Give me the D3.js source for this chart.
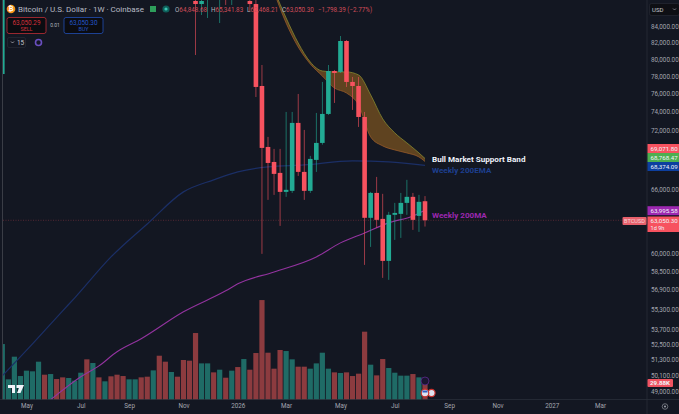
<!DOCTYPE html>
<html>
<head>
<meta charset="utf-8">
<script src="https://cdn.jsdelivr.net/npm/d3@7"></script>
<style>
  html, body { margin: 0; padding: 0; background: #131722; overflow: hidden; }
  text { font-family: Roboto, sans-serif; }
  .axis text { fill: #a3a6af; font-size: 6.3px; }
  .axis path, .axis line { display: none; }
</style>
</head>
<body>
<div id="chart"></div>
<script>
// weekly bars, 2025-03-31 to 2026-08-03
const firstWeek = new Date(Date.UTC(2025, 2, 31));
const lastWeek = new Date(Date.UTC(2026, 7, 3));

// volume in K, one per bar
const volumes = [92.9, 34.3, 71.9, 39.8, 48.7, 47.6, 63.6, 42, 43.1, 34.8, 37.6, 36.5, 32.1, 45.3, 67.5, 61.4, 37.6, 31, 39.3, 42,
    39.8, 34.3, 34.3, 37.6, 38.7, 49.2, 73.5, 63.6, 46.5, 38.7, 66.4, 65.3, 111.2, 60.8, 60.8, 45.9, 50.3, 37,
    48.7, 54.7, 68, 50.3, 78, 165.9, 78.5, 52, 83, 81.3, 67.5, 55.3, 55.3, 52, 60.8, 78.5, 52, 45.9, 44.8, 45.9,
    39.8, 43.7, 113.4, 58.6, 40.9, 68, 53.1, 45.3, 40.4, 40.4, 43.1, 37.6, 29.88];
// u = up week, d = down week
const volumeDirs = "uuuuuuududduuudududdduudduddudddduudud" + "ududddddduudduuuududdddudduuuudud";

// candles on screen (bar number, then prices); the rest sit above the visible range
const candleBars = [0, 32, 33, 34, 36, 37, 38, 41, 42, 43, 44, 45, 46, 47, 48, 49, 50, 51, 52, 53, 54, 55, 56, 57, 58, 59, 60, 61, 62, 63, 64, 65, 66, 67, 68, 69, 70];
const opens = [78250, 87160, 86770, 87500, 88000, 89000, 88000, 87160, 86770, 76880, 70260, 68720, 67620, 65750, 65850, 72800, 67720, 65850, 68930, 70680, 73770, 78600, 78490, 82160, 77340, 76880, 73440, 63280, 65650, 63180, 59380, 63560, 63650, 64690, 65270, 63460, 64848.68];
const highs = [90000, 90000, 90000, 90000, 90000, 90000, 90000, 88000, 87500, 79300, 71310, 70060, 70060, 73990, 73990, 75980, 72050, 69340, 73880, 77340, 79300, 78720, 82770, 82270, 77910, 77910, 73990, 65750, 67220, 65560, 63840, 64690, 65650, 66930, 65650, 65460, 65341.83];
const lows = [74430, 80480, 85380, 85000, 84370, 86650, 86650, 85800, 75640, 60000, 64980, 65460, 62530, 65270, 65650, 67320, 64980, 65650, 67720, 70500, 73660, 74980, 78370, 76770, 74210, 72370, 59030, 60620, 62350, 57910, 57740, 61250, 61430, 63560, 62160, 61980, 62468.21];
const closes = [88000, 86770, 87160, 89000, 89500, 88500, 89000, 86770, 76770, 70160, 68620, 67520, 65750, 65950, 72800, 67720, 65850, 69030, 70680, 73770, 78600, 78370, 82160, 77340, 76880, 73440, 63280, 65650, 63090, 59380, 63560, 63740, 64690, 65270, 63090, 64790, 63050.30];

// indicator lines, read at these bar numbers
const emaBars = [0, 5, 10, 12, 18, 24, 30, 35, 39, 44, 50, 58, 64, 70];
const ema200 = [50110, 52530, 55160, 56230, 59730, 62710, 65750, 66930, 67720, 68220, 68420, 68830, 68720, 68374.09];
const smaBars = [8, 13, 16, 19, 23, 30, 37, 39, 45, 52, 56, 60, 64, 68, 70];
const sma200 = [48370, 50040, 50850, 51920, 52930, 55080, 56810, 57400, 58420, 59730, 60980, 61880, 62810, 63460, 63995.58];
const bandBars = [45, 47, 49, 51, 53, 55, 57, 59, 61, 63, 65, 67, 69, 70];
const bandUpper = [88590, 85000, 81920, 79650, 78600, 78490, 78490, 78140, 75870, 73230, 71730, 70680, 69640, 69071.80];
const bandLower = [88320, 84370, 81440, 79420, 78020, 76650, 76090, 74760, 71310, 70370, 69950, 69640, 69230, 68768.47];

const priceTicks = [84000, 82000, 80000, 78000, 76000, 74000, 72000, 66000, 60000, 58500, 56900, 55300, 53700, 52500, 51300, 50100, 49000];
const monthDates = ["2025-04-28", "2025-06-30", "2025-08-25", "2025-10-27", "2025-12-29", "2026-02-23", "2026-04-27", "2026-06-29", "2026-08-31", "2026-10-26", "2026-12-28", "2027-02-22"];
const monthLabels = ["May", "Jul", "Sep", "Nov", "2026", "Mar", "May", "Jul", "Sep", "Nov", "2027", "Mar"];

const lastClose = 63050.30;

const width = 679, height = 414;
const paneRight = 647, paneBottom = 400;
const red = "#f7525f", teal = "#22ab94";

const svg = d3.select("#chart").append("svg")
    .attr("width", width)
    .attr("height", height)
    .style("display", "block");

svg.append("rect").attr("width", width).attr("height", height).attr("fill", "#131722");

const weeks = d3.utcMonday.range(firstWeek, d3.utcDay.offset(lastWeek, 1));
const x = d3.scaleUtc().domain([firstWeek, lastWeek]).range([2.3, 425]);
const y = d3.scaleLog().domain([84000, 49000]).range([26, 391]);
const vol = d3.scaleLinear().domain([0, 29.88]).range([paneBottom, 382]);
const barX = i => x(weeks[i]);

svg.append("clipPath").attr("id", "pane").append("rect")
    .attr("x", 3).attr("y", 0).attr("width", paneRight - 3).attr("height", paneBottom);

const pane = svg.append("g").attr("clip-path", "url(#pane)");

// volume
pane.append("g").selectAll("rect")
    .data(volumes)
    .enter()
    .append("rect")
    .attr("x", (d, i) => barX(i) - 2.6)
    .attr("width", 5.2)
    .attr("y", d => vol(d))
    .attr("height", d => paneBottom - vol(d))
    .attr("fill", (d, i) => volumeDirs[i] === "u" ? "#1f6b66" : "#8c3b3f");

// last price dotted line
pane.append("line")
    .attr("x1", 3).attr("x2", paneRight)
    .attr("y1", y(lastClose)).attr("y2", y(lastClose))
    .attr("stroke", "#f7525f").attr("stroke-opacity", 0.5)
    .attr("stroke-width", 0.6).attr("stroke-dasharray", "1 1.5");

// band
const bandArea = d3.area()
    .x((d, i) => barX(bandBars[i]))
    .y0((d, i) => y(bandLower[i]))
    .y1((d, i) => y(bandUpper[i]))
    .curve(d3.curveMonotoneX);
const lineOf = (bars, vals) => d3.line()
    .x((d, i) => barX(bars[i]))
    .y(d => y(d))
    .curve(d3.curveMonotoneX)(vals);

pane.append("path").attr("d", bandArea(bandUpper)).attr("fill", "#5f4320");
pane.append("path").attr("d", lineOf(bandBars, bandUpper)).attr("fill", "none").attr("stroke", "#7f7f2e").attr("stroke-width", 0.9);
pane.append("path").attr("d", lineOf(bandBars, bandLower)).attr("fill", "none").attr("stroke", "#96592a").attr("stroke-width", 0.8);

pane.append("path").attr("d", lineOf(emaBars, ema200)).attr("fill", "none").attr("stroke", "#1b2f66").attr("stroke-width", 1.2);
pane.append("path").attr("d", lineOf(smaBars, sma200)).attr("fill", "none").attr("stroke", "#93339f").attr("stroke-width", 1.1);

// candles
const candles = pane.append("g").selectAll("g")
    .data(candleBars)
    .enter()
    .append("g")
    .attr("fill", (d, i) => closes[i] >= opens[i] ? teal : red);

candles.append("rect")
    .attr("x", d => barX(d) - 0.4)
    .attr("width", 0.8)
    .attr("y", (d, i) => y(highs[i]))
    .attr("height", (d, i) => y(lows[i]) - y(highs[i]))
    .attr("opacity", 0.75);

candles.append("rect")
    .attr("x", d => barX(d) - 2.3)
    .attr("width", 4.6)
    .attr("y", (d, i) => y(Math.max(opens[i], closes[i])))
    .attr("height", (d, i) => Math.max(1.2, Math.abs(y(opens[i]) - y(closes[i]))));

// frame
svg.append("line").attr("x1", 2.5).attr("x2", 2.5).attr("y1", 0).attr("y2", paneBottom).attr("stroke", "#3a3d46").attr("stroke-width", 1);
svg.append("line").attr("x1", paneRight).attr("x2", paneRight).attr("y1", 0).attr("y2", height).attr("stroke", "#2a2e39").attr("stroke-width", 0.8);
svg.append("line").attr("x1", 0).attr("x2", width).attr("y1", paneBottom - 0.5).attr("y2", paneBottom - 0.5).attr("stroke", "#2a2e39").attr("stroke-width", 0.8);

// axes
svg.append("g")
    .attr("class", "axis")
    .attr("transform", `translate(${paneRight},0)`)
    .call(d3.axisRight(y).tickValues(priceTicks).tickFormat(d3.format(",.2f")).tickSize(0).tickPadding(4));

svg.append("g")
    .attr("class", "axis")
    .attr("transform", `translate(0,${paneBottom})`)
    .call(d3.axisBottom(x)
        .tickValues(monthDates.map(d => new Date(d + "T00:00:00Z")))
        .tickFormat((d, i) => monthLabels[i])
        .tickSize(0).tickPadding(4));

// notes on the chart
function note(txt, nx, ny, color) {
    svg.append("text").attr("x", nx).attr("y", ny).attr("fill", color)
        .attr("font-size", 8.1).attr("font-weight", 700).text(txt);
}
note("Bull Market Support Band", 432, 162, "#f0f3fa");
note("Weekly 200EMA", 432, 173, "#1d3f8f");
note("Weekly 200MA", 432, 217.5, "#9c27b0");

// price tags
const tags = [
    { label: "69,071.80", ty: 148.5, color: "#f7525f" },
    { label: "68,768.47", ty: 157.5, color: "#4caf50" },
    { label: "68,374.09", ty: 166.5, color: "#0d3f9f" },
    { label: "63,995.58", ty: 210.7, color: "#9c27b0" }
];
tags.forEach(t => {
    svg.append("rect").attr("x", paneRight + 0.5).attr("y", t.ty - 4.5).attr("width", width - paneRight).attr("height", 9).attr("fill", t.color);
    svg.append("text").attr("x", paneRight + 3.5).attr("y", t.ty + 2.2).attr("fill", "#f0f3fa").attr("font-size", 6.2).text(t.label);
});
svg.append("rect").attr("x", paneRight + 0.5).attr("y", 216.5).attr("width", width - paneRight).attr("height", 15.5).attr("fill", red);
svg.append("text").attr("x", paneRight + 3.5).attr("y", 222.6).attr("fill", "#f0f3fa").attr("font-size", 6.2).text("63,050.30");
svg.append("text").attr("x", paneRight + 3.5).attr("y", 230).attr("fill", "#f0f3fa").attr("font-size", 5.6).text("1d 9h");
svg.append("rect").attr("x", 622.5).attr("y", 217).attr("width", 24).attr("height", 8).attr("rx", 1).attr("fill", "#e8606b");
svg.append("text").attr("x", 634.5).attr("y", 223).attr("text-anchor", "middle").attr("fill", "#f5d7da").attr("font-size", 5.6).text("BTCUSD");
svg.append("rect").attr("x", paneRight + 0.5).attr("y", 379).attr("width", 25.5).attr("height", 8).attr("rx", 1).attr("fill", "#ef5361");
svg.append("text").attr("x", paneRight + 13).attr("y", 385.2).attr("text-anchor", "middle").attr("fill", "#f0f3fa").attr("font-size", 6.2).attr("font-weight", 700).text("29.88K");

// usd box + settings icon
svg.append("rect").attr("x", 649.5).attr("y", 3.5).attr("width", 30).attr("height", 12).attr("rx", 2).attr("fill", "#0e0f14").attr("stroke", "#2a2e39").attr("stroke-width", 0.6);
svg.append("text").attr("x", 652).attr("y", 11.8).attr("fill", "#c8cad0").attr("font-size", 6).text("USD");
svg.append("path").attr("d", "M673 8.5l1.5 1.5 1.5-1.5").attr("fill", "none").attr("stroke", "#a3a6af").attr("stroke-width", 0.7);
svg.append("circle").attr("cx", 665).attr("cy", 406.5).attr("r", 2.8).attr("fill", "none").attr("stroke", "#a3a6af").attr("stroke-width", 0.6);
svg.append("circle").attr("cx", 665).attr("cy", 406.5).attr("r", 1).attr("fill", "#a3a6af");

// top legend
svg.append("circle").attr("cx", 11).attr("cy", 9).attr("r", 4.3).attr("fill", "#f7931a");
svg.append("text").attr("x", 11).attr("y", 11.3).attr("text-anchor", "middle").attr("fill", "#fff").attr("font-size", 6.5).attr("font-weight", 700).text("₿");
svg.append("text").attr("x", 18).attr("y", 12).attr("fill", "#b8bbc4").attr("font-size", 8).text("Bitcoin / U.S. Dollar · 1W · Coinbase");
svg.append("rect").attr("x", 150).attr("y", 6).attr("width", 6).attr("height", 6).attr("fill", "#2e9e5b");
svg.append("circle").attr("cx", 166).attr("cy", 9).attr("r", 3.6).attr("fill", "#0f5f5a");
svg.append("circle").attr("cx", 166).attr("cy", 9).attr("r", 1.6).attr("fill", "#39c5b3");

const legendParts = [
    ["O", "64,848.68", 175], ["H", "65,341.83", 211], ["L", "62,468.21", 247], ["C", "63,050.30", 282]
];
legendParts.forEach(p => {
    const t = svg.append("text").attr("x", p[2]).attr("y", 12).attr("font-size", 6.3);
    t.append("tspan").attr("fill", "#b2b5be").text(p[0]);
    t.append("tspan").attr("fill", "#cf4c58").text(p[1]);
});
svg.append("text").attr("x", 318).attr("y", 12).attr("fill", "#cf4c58").attr("font-size", 6.3).text("−1,798.39 (−2.77%)");

// sell / buy boxes
function tradeBox(bx, color, price, label) {
    svg.append("rect").attr("x", bx).attr("y", 17.5).attr("width", 39).attr("height", 16).attr("rx", 2).attr("fill", "#0b0c11").attr("stroke", color).attr("stroke-width", 0.7);
    svg.append("text").attr("x", bx + 19.5).attr("y", 24.5).attr("text-anchor", "middle").attr("fill", color).attr("font-size", 6.4).text(price);
    svg.append("text").attr("x", bx + 19.5).attr("y", 31).attr("text-anchor", "middle").attr("fill", color).attr("font-size", 5.4).text(label);
}
tradeBox(7, "#d4303a", "63,050.29", "SELL");
tradeBox(64, "#2456c8", "63,050.30", "BUY");
svg.append("text").attr("x", 55).attr("y", 27).attr("text-anchor", "middle").attr("fill", "#b2b5be").attr("font-size", 5).text("0.01");
svg.append("rect").attr("x", 7.5).attr("y", 37.5).attr("width", 18).attr("height", 10).attr("rx", 1.5).attr("fill", "none").attr("stroke", "#2a2e39").attr("stroke-width", 0.6);
svg.append("text").attr("x", 17).attr("y", 45).attr("fill", "#c8cad0").attr("font-size", 6.4).text("15");
svg.append("path").attr("d", "M11 41.5l1.5 1.5 1.5-1.5").attr("fill", "none").attr("stroke", "#c8cad0").attr("stroke-width", 0.7);
svg.append("circle").attr("cx", 38.5).attr("cy", 42.5).attr("r", 3).attr("fill", "none").attr("stroke", "#6a4fc0").attr("stroke-width", 1.6);

// TV logo
svg.append("path")
    .attr("d", "M8 385h7v8h-3v-5h-4zM16.5 385h7.5l-3.5 8h-3.5l2-5h-2.5z")
    .attr("fill", "#f0f3fa");

// event markers
svg.append("circle").attr("cx", 425).attr("cy", 381).attr("r", 4).attr("fill", "#1a1530").attr("stroke", "#5b2a8c").attr("stroke-width", 0.8);
svg.append("circle").attr("cx", 431.5).attr("cy", 393).attr("r", 3.6).attr("fill", "#dfe3f0").attr("stroke", "#c9302c").attr("stroke-width", 1.2);
svg.append("circle").attr("cx", 425).attr("cy", 393).attr("r", 3.8).attr("fill", "#dfe3f0").attr("stroke", "#c9302c").attr("stroke-width", 1.2);
svg.append("rect").attr("x", 422.5).attr("y", 390.5).attr("width", 5).attr("height", 2).attr("fill", "#2f5fc4");
</script>
</body>
</html>
